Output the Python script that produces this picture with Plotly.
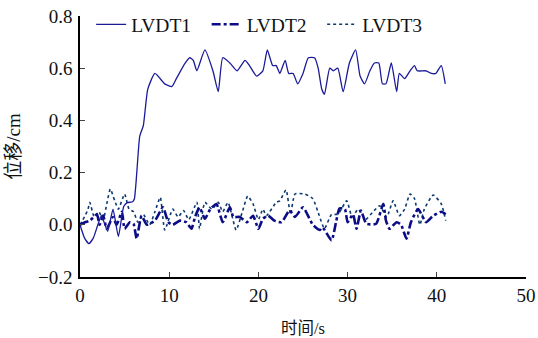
import plotly.graph_objects as go

# LVDT1
t1 = [0, 0.5, 1.0, 1.5, 2.0, 2.4, 3.1, 3.7, 4.3, 4.9, 5.3, 5.9, 6.1, 6.3, 6.45, 6.7, 7.1, 7.6, 8.4,
      9.5, 10.3, 10.8, 11.8, 12.3, 12.7, 13.1, 14.0, 14.9, 15.5, 16.0, 16.8, 17.6, 18.5, 19.0,
      19.8, 20.5, 21.0, 21.6, 22.0, 22.4, 23.0, 23.4, 23.9, 24.4, 25.0, 25.6, 26.3, 26.7, 27.1,
      27.4, 28.0, 28.4, 28.9, 29.5, 30.2, 30.9, 31.4, 31.9, 32.5, 33.0, 33.5, 33.9, 34.3, 34.9,
      35.5, 35.8, 36.4, 37.0, 37.5, 37.8, 38.8, 39.4, 39.9, 40.5, 40.95]
v1 = [0, -0.05, -0.072, -0.05, 0.0, 0.035, -0.025, 0.06, -0.045, 0.07, 0.085, 0.088, 0.10, 0.17,
      0.24, 0.34, 0.38, 0.52, 0.58, 0.54, 0.53, 0.56, 0.62, 0.64, 0.63, 0.59, 0.67, 0.59, 0.51,
      0.64, 0.62, 0.59, 0.63, 0.61, 0.57, 0.59, 0.67, 0.61, 0.61, 0.58, 0.63, 0.58, 0.58, 0.54,
      0.58, 0.64, 0.64, 0.60, 0.52, 0.50, 0.60, 0.59, 0.60, 0.51, 0.62, 0.67, 0.57, 0.54, 0.59,
      0.62, 0.62, 0.54, 0.54, 0.62, 0.51, 0.58, 0.56, 0.59, 0.61, 0.59, 0.59, 0.58, 0.58, 0.61,
      0.54]

# LVDT2
t2 = [0, 0.56, 1.1, 1.9, 2.2, 2.6, 3.0, 3.7, 4.1, 4.7, 5.0, 5.6, 6.0, 6.35, 6.9, 7.5, 8.4, 9.3,
      9.9, 10.4, 11.2, 11.9, 12.5, 12.9, 13.4, 14.0, 14.6, 15.3, 16.0, 16.8, 17.2, 17.9, 18.7,
      19.4, 20.0, 20.5, 21.1, 21.8, 22.6, 23.5, 24.1, 25.0, 26.1, 26.9, 27.2, 28.2, 28.7, 29.1,
      29.7, 30.0, 30.6, 31.0, 31.5, 32.1, 33.2, 34.0, 34.3, 34.7, 35.5, 36.0, 36.6, 37.1, 37.9,
      38.8, 39.6, 40.5, 41.0]
v2 = [0, 0.01, 0.016, 0.04, 0.0, 0.035, -0.015, 0.03, 0.0, 0.05, -0.015, 0.01, 0.004, -0.053,
      0.035, 0.0, 0.016, 0.067, 0.01, 0.0, 0.016, 0.01, -0.015, 0.03, 0.067, 0.023, 0.06, 0.08,
      0.01, 0.067, 0.03, 0.03, 0.01, 0.035, -0.015, 0.023, 0.035, 0.016, 0.01, 0.055, 0.03,
      0.067, 0.0, -0.02, -0.01, -0.06, 0.01, 0.063, 0.06, 0.01, 0.04, -0.015, 0.055, 0.004,
      0.004, 0.08, 0.016, -0.015, 0.01, 0.0, -0.053, 0.01, 0.06, 0.01, 0.035, 0.05, 0.04]

# LVDT3
t3 = [0, 0.5, 0.9, 1.1, 1.6, 2.1, 2.6, 3.0, 3.4, 3.9, 4.3, 5.0, 5.5, 6.0, 6.5, 7.1, 7.8, 8.4,
      9.0, 9.5, 10.4, 11.0, 11.6, 12.2, 13.1, 13.4, 14.0, 14.8, 15.5, 16.0, 16.6, 17.5, 18.2,
      18.8, 19.4, 20.0, 20.5, 20.9, 22.0, 22.4, 23.1, 23.6, 24.1, 25.2, 26.1, 26.7, 27.4, 28.2,
      28.9, 29.9, 30.5, 31.2, 32.0, 32.8, 33.6, 34.4, 35.1, 35.8, 36.4, 37.0, 37.5, 38.1, 38.6,
      39.6, 40.5, 41.0]
v3 = [0, 0.03, 0.06, 0.086, 0.03, 0.05, 0.02, 0.08, 0.137, 0.092, 0.06, 0.118, 0.06, 0.05,
      0.01, 0.04, 0.0, 0.05, 0.105, -0.02, 0.06, 0.03, 0.055, 0.02, 0.086, -0.015, 0.086, 0.06,
      0.086, 0.05, 0.086, -0.02, 0.05, 0.11, 0.08, 0.02, 0.06, 0.035, 0.086, 0.092, 0.134, 0.04,
      0.118, 0.118, 0.1, 0.048, -0.015, 0.04, 0.04, 0.092, 0.03, 0.06, 0.02, 0.048, 0.073, 0.03,
      0.092, 0.035, 0.06, 0.118, 0.1, 0.0, 0.06, 0.114, 0.08, 0.016]

series_names = ["LVDT1", "LVDT2", "LVDT3"]
x_ticks = [0, 10, 20, 30, 40, 50]
y_ticks = [-0.2, 0.0, 0.2, 0.4, 0.6, 0.8]

FONT = "'Liberation Serif', 'Noto Sans CJK SC', serif"

fig = go.Figure()
fig.add_trace(go.Scatter(x=t3, y=v3, name=series_names[2], mode="lines",
                         line=dict(color="#0b3a6e", width=1.6, dash="dot", shape="spline", smoothing=0.5)))
fig.add_trace(go.Scatter(x=t2, y=v2, name=series_names[1], mode="lines",
                         line=dict(color="#0c0c86", width=2.6, dash="dashdot", shape="spline", smoothing=0.5)))
fig.add_trace(go.Scatter(x=t1, y=v1, name=series_names[0], mode="lines",
                         line=dict(color="#1a1a9a", width=1.3, shape="spline", smoothing=0.5)))

fig.update_layout(
    width=538, height=338,
    margin=dict(l=80, r=12, t=16, b=61, autoexpand=False),
    paper_bgcolor="white", plot_bgcolor="white",
    font=dict(family=FONT, size=19, color="#111"),
    legend=dict(orientation="h", x=0.025, y=0.967, xanchor="left", yanchor="middle",
                traceorder="reversed", bgcolor="rgba(0,0,0,0)",
                font=dict(family=FONT, size=19.5), itemwidth=30, tracegroupgap=0,
                entrywidth=70.5, entrywidthmode="pixels"),
    showlegend=True,
)
fig.update_xaxes(range=[0, 50], tickvals=x_ticks, ticks="inside", ticklen=5, tickwidth=1.2,
                 showline=True, linecolor="black", linewidth=1.5, showgrid=False, zeroline=False,
                 automargin=False, ticklabeloverflow="allow",
                 title=dict(text="时间/s", font=dict(family=FONT, size=16.5), standoff=22),
                 tickfont=dict(family=FONT, size=19))
fig.update_yaxes(range=[-0.2, 0.8], tickvals=y_ticks, tickformat=".1f", ticks="inside", ticklen=5,
                 tickwidth=1.2, showline=True, linecolor="black", linewidth=1.5, showgrid=False,
                 zeroline=False, automargin=False, ticklabelstandoff=2, ticklabeloverflow="allow",
                 title=dict(text="位移/cm", font=dict(family=FONT, size=19), standoff=12),
                 tickfont=dict(family=FONT, size=19))

fig.write_html("out.html", config={"displayModeBar": False},
               post_script="document.body.style.margin='0';document.body.style.overflow='hidden';")
